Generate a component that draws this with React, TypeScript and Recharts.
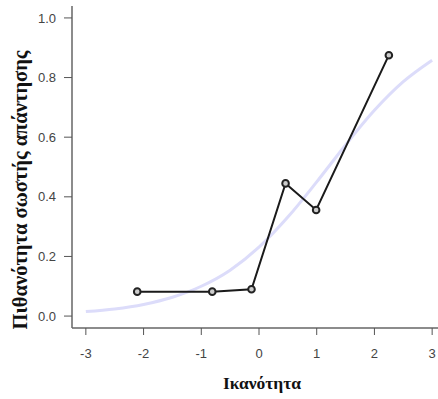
import React from "react";
import {
  ComposedChart,
  Line,
  XAxis,
  YAxis,
  Label,
} from "recharts";

// observed proportions per ability group
const abilityPoints = [-2.11, -0.81, -0.13, 0.46, 0.99, 2.25];
const observedProb = [0.082, 0.082, 0.09, 0.445, 0.356, 0.875];

// model curve
const curveAbility = [-3, -2.5, -2, -1.5, -1, -0.5, 0, 0.5, 1, 1.5, 2, 2.5, 3];
const curveProb = [0.015, 0.024, 0.039, 0.063, 0.1, 0.154, 0.231, 0.332, 0.45, 0.574, 0.69, 0.786, 0.858];

const xTicks = [-3, -2, -1, 0, 1, 2, 3];
const yTicks = [0, 0.2, 0.4, 0.6, 0.8, 1];

const observed = abilityPoints.map((x, i) => ({ x, p: observedProb[i] }));
const curve = curveAbility.map((x, i) => ({ x, p: curveProb[i] }));

const X_DOMAIN: [number, number] = [-3.24, 3.24];
const Y_DOMAIN: [number, number] = [-0.04, 1.04];

const boxLine = { stroke: "#666", strokeWidth: 1.5 };

const tickFont = {
  fill: "#444",
  fontSize: 13,
  fontFamily: "'Liberation Sans', Arial, sans-serif",
};
const titleFont = "'Liberation Serif', 'Times New Roman', serif";

function YTitle({ viewBox }: any) {
  const cy = viewBox.y + viewBox.height / 2 + 23;
  return (
    <text
      x={20}
      y={cy}
      transform={`rotate(-90, 20, ${cy})`}
      textAnchor="middle"
      dominantBaseline="central"
      fontFamily={titleFont}
      fontWeight="bold"
      fontSize={20.5}
      fill="#111"
    >
      Πιθανότητα σωστής απάντησης
    </text>
  );
}

export default function App() {
  return (
    <div
      style={{
        position: "absolute",
        left: 0,
        top: 0,
        width: 438,
        height: 399,
        overflow: "hidden",
        background: "#fff",
      }}
    >
      <ComposedChart
        width={460}
        height={399}
        margin={{ top: 6, right: 14, bottom: 0, left: 0 }}
      >
        <XAxis
          type="number"
          dataKey="x"
          domain={X_DOMAIN}
          ticks={xTicks}
          allowDataOverflow
          axisLine={boxLine}
          tickLine={{ stroke: "#555" }}
          tickSize={7}
          tickMargin={14}
          tick={tickFont}
          height={71}
        >
          <Label
            value="Ικανότητα"
            position="insideBottom"
            offset={10}
            dx={3}
            style={{ fontFamily: titleFont, fontWeight: "bold", fontSize: 17.5, fill: "#111" }}
          />
        </XAxis>
        <XAxis
          xAxisId="top"
          orientation="top"
          type="number"
          dataKey="x"
          domain={X_DOMAIN}
          allowDataOverflow
          axisLine={boxLine}
          tick={false}
          tickLine={false}
          height={0}
        />
        <YAxis
          type="number"
          domain={Y_DOMAIN}
          ticks={yTicks}
          allowDataOverflow
          axisLine={boxLine}
          tickLine={{ stroke: "#555" }}
          tickSize={8}
          tickMargin={8}
          tick={tickFont}
          tickFormatter={(v: number) => v.toFixed(1)}
          width={72}
        >
          <Label content={<YTitle />} />
        </YAxis>
        <YAxis
          yAxisId="right"
          orientation="right"
          type="number"
          domain={Y_DOMAIN}
          allowDataOverflow
          axisLine={boxLine}
          tick={false}
          tickLine={false}
          width={0}
        />
        <Line
          data={curve}
          dataKey="p"
          type="monotone"
          stroke="#dcdcfa"
          strokeWidth={3}
          dot={false}
          activeDot={false}
          isAnimationActive={false}
        />
        <Line
          data={observed}
          dataKey="p"
          type="linear"
          stroke="#1a1a1a"
          strokeWidth={2}
          dot={{ r: 3.3, stroke: "#222", strokeWidth: 2, fill: "#ccc" }}
          activeDot={false}
          isAnimationActive={false}
        />
      </ComposedChart>
    </div>
  );
}
